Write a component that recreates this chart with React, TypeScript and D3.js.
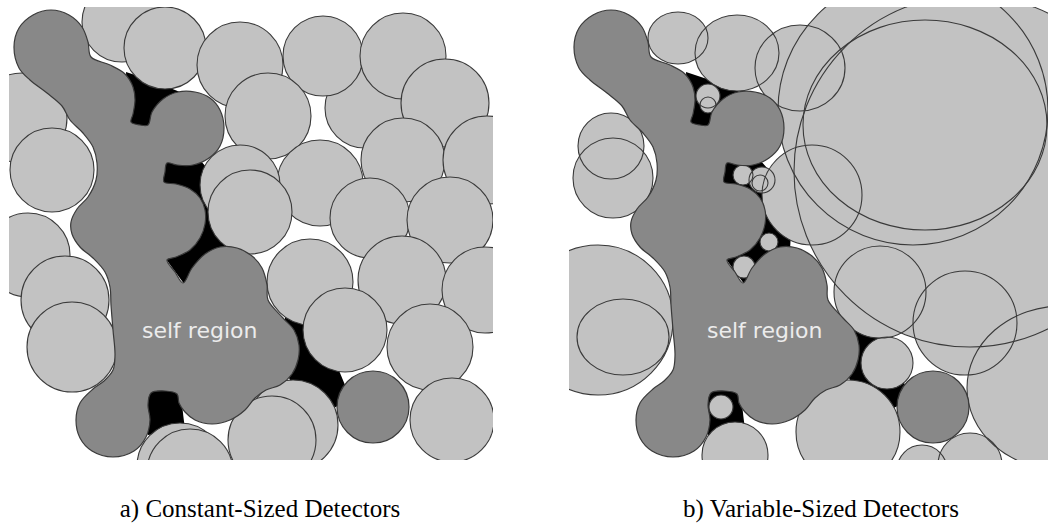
import React from 'react';
import * as d3 from 'd3';

const W = 1048;
const H = 531;

// panel placement (left edge of local coordinate system)
const panelOffsets = [0, 560];
const panelLabels = ['a) Constant-Sized Detectors', 'b) Variable-Sized Detectors'];
const labelCenters = [260, 821];
const selfLabelX = [142, 147];

// outline of the main self region (local coordinates, clockwise)
const selfOutline: number[][] = [
  [14, 47], [19, 28], [33, 15], [51, 10], [69, 15], [82, 27], [88, 42], [91, 57],
  [110, 65], [125, 74], [133, 87], [135, 100], [133, 114], [131, 122], [140, 125], [148, 125],
  [152, 112], [163, 99], [178, 92], [195, 92], [210, 98], [220, 110], [224, 128], [220, 146],
  [209, 158], [193, 165], [177, 165], [167, 163], [165, 172], [164, 182], [176, 184], [190, 189],
  [200, 198], [205, 210], [205, 224], [200, 238], [190, 250], [176, 257], [167, 260], [175, 272],
  [183, 283], [192, 268], [205, 254], [220, 247], [237, 248], [252, 256], [262, 268], [267, 285],
  [268, 300], [283, 318], [294, 330], [299, 345], [298, 360], [292, 374], [280, 385], [266, 390],
  [255, 398], [245, 410], [230, 420], [212, 424], [195, 420], [185, 412], [179, 403], [177, 394],
  [165, 391], [151, 393], [148, 405], [150, 420], [146, 437], [134, 451], [113, 457], [92, 451],
  [80, 438], [76, 420], [80, 403], [93, 389], [104, 381], [113, 370], [115, 355], [113, 330],
  [111, 305], [110, 287], [105, 272], [93, 258], [80, 247], [72, 234], [71, 222], [77, 209],
  [88, 197], [96, 180], [97, 163], [93, 147], [83, 133], [70, 120], [62, 106], [47, 93],
  [30, 80], [19, 68],
];

// separate self-coloured circle: [cx, cy, r]
const selfIslands: number[][] = [[373, 407, 36]];

// uncovered pockets next to the self region (black)
const pockets: number[][][] = [
  [[126, 72], [150, 80], [180, 92], [165, 110], [152, 122], [150, 132], [132, 130], [128, 110]],
  [[160, 158], [200, 160], [222, 185], [232, 215], [230, 250], [200, 250], [180, 200], [160, 190]],
  [[163, 255], [185, 222], [215, 232], [212, 262], [190, 292]],
  [[146, 388], [180, 388], [185, 430], [148, 435]],
  [[285, 310], [320, 325], [345, 385], [345, 402], [330, 410], [300, 400], [285, 370]],
];

// constant-sized detectors: [cx, cy, r]
const constDetectors: number[][] = [
  [365, 108, 40],
  [122, 22, 40],
  [165, 48, 41],
  [240, 65, 43],
  [323, 56, 40],
  [403, 56, 43],
  [445, 103, 44],
  [268, 116, 43],
  [403, 160, 42],
  [487, 160, 44],
  [320, 183, 43],
  [240, 185, 40],
  [250, 212, 42],
  [370, 218, 40],
  [450, 220, 43],
  [310, 282, 43],
  [402, 280, 44],
  [485, 290, 43],
  [345, 330, 42],
  [430, 347, 43],
  [452, 420, 42],
  [293, 425, 45],
  [272, 440, 44],
  [180, 466, 43],
  [190, 472, 43],
  [22, 118, 45],
  [52, 170, 42],
  [28, 255, 42],
  [65, 300, 44],
  [72, 347, 45],
];

// variable-sized detectors: [cx, cy, rx, ry?]
const varDetectors: number[][] = [
  [410, 171, 176],
  [353, 110, 135],
  [365, 125, 122, 105],
  [502, 388, 95, 82],
  [118, 38, 30, 26],
  [177, 53, 42, 38],
  [240, 68, 45, 43],
  [252, 195, 50],
  [51, 146, 33],
  [53, 178, 40],
  [38, 320, 75],
  [63, 337, 46, 38],
  [148, 96, 12],
  [148, 105, 8],
  [183, 175, 10],
  [202, 180, 13],
  [200, 183, 8],
  [184, 267, 11],
  [209, 242, 9],
  [161, 407, 12],
  [175, 455, 33],
  [320, 292, 46],
  [405, 323, 52],
  [327, 363, 26],
  [288, 432, 52],
  [362, 470, 25],
  [410, 465, 32],
];

const LIGHT = '#c2c2c2';
const DARK = '#888888';
const EDGE = '#3a3a3a';

const clipLocal = { x0: 9, x1: 493, y0: 7, y1: 460 };

function Panel({ index }: { index: number }) {
  const off = panelOffsets[index];
  const sx = d3.scaleLinear().domain([0, 485]).range([off, off + 485]);
  const sy = d3.scaleLinear().domain([0, 531]).range([0, 531]);
  const sr = (v: number) => sx(v) - sx(0);
  const poly = d3.line<number[]>().x((d) => sx(d[0])).y((d) => sy(d[1])).curve(d3.curveLinearClosed);
  const smooth = d3
    .line<number[]>()
    .x((d) => sx(d[0]))
    .y((d) => sy(d[1]))
    .curve(d3.curveCatmullRomClosed.alpha(0.5));
  const clipId = `clip-${index}`;
  const dets = index === 0 ? constDetectors : varDetectors;

  const shape = (d: number[], key: string, props: any) => (
    <ellipse key={key} cx={sx(d[0])} cy={sy(d[1])} rx={sr(d[2])} ry={sr(d[3] ?? d[2])} {...props} />
  );

  return (
    <g>
      <defs>
        <clipPath id={clipId}>
          <rect
            x={sx(clipLocal.x0)}
            y={sy(clipLocal.y0)}
            width={sr(clipLocal.x1 - clipLocal.x0)}
            height={sy(clipLocal.y1) - sy(clipLocal.y0)}
          />
        </clipPath>
      </defs>
      <g clipPath={`url(#${clipId})`}>
        {pockets.map((p, i) => (
          <path key={`p${i}`} d={poly(p) || ''} fill="#000" />
        ))}
        {index === 0
          ? dets.map((d, i) => shape(d, `d${i}`, { fill: LIGHT, stroke: EDGE, strokeWidth: 1.1 }))
          : [
              ...dets.map((d, i) => shape(d, `f${i}`, { fill: LIGHT })),
              ...dets.map((d, i) => shape(d, `s${i}`, { fill: 'none', stroke: EDGE, strokeWidth: 1.1 })),
            ]}
        <path d={smooth(selfOutline) || ''} fill={DARK} stroke={EDGE} strokeWidth={1.2} strokeLinejoin="round" />
        {selfIslands.map((c, i) => shape(c, `si${i}`, { fill: DARK, stroke: EDGE, strokeWidth: 1.2 }))}
        <text
          x={sx(selfLabelX[index])}
          y={sy(338)}
          fill="#ececec"
          fontFamily="'DejaVu Sans', sans-serif"
          fontSize={22}
        >
          self region
        </text>
      </g>
      <text
        x={labelCenters[index]}
        y={517}
        textAnchor="middle"
        fontFamily="'Liberation Serif', 'Times New Roman', serif"
        fontSize={25}
        fill="#000"
      >
        {panelLabels[index]}
      </text>
    </g>
  );
}

export default function App() {
  return (
    <svg
      width={W}
      height={H}
      viewBox={`0 0 ${W} ${H}`}
      style={{ position: 'absolute', left: 0, top: 0, background: '#fff' }}
    >
      <rect x={0} y={0} width={W} height={H} fill="#fff" />
      <Panel index={0} />
      <Panel index={1} />
    </svg>
  );
}
